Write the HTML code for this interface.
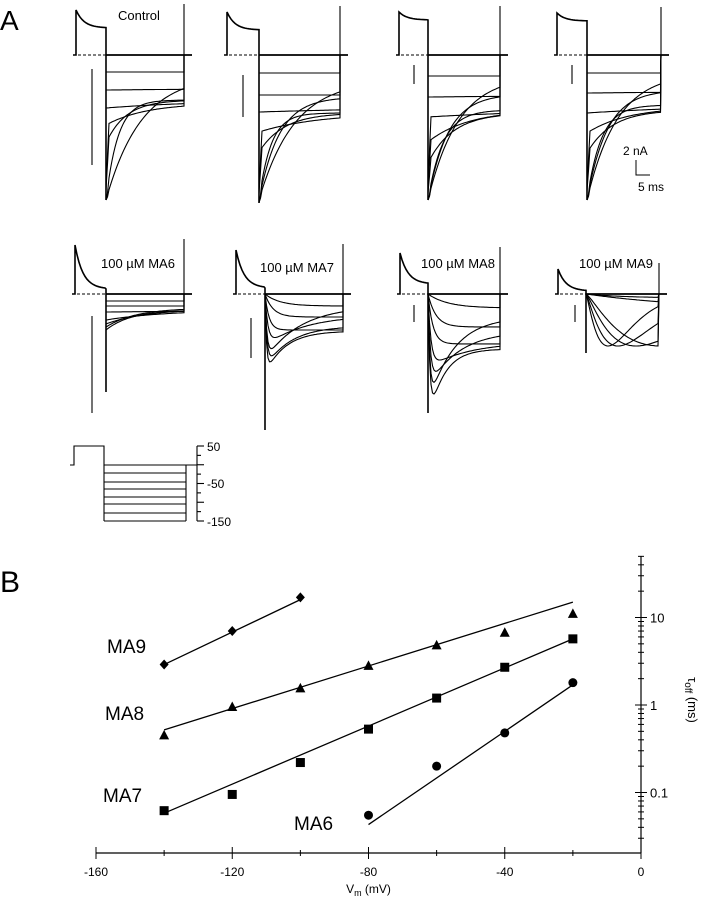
<!DOCTYPE html>
<html><head><meta charset="utf-8"><style>
body{margin:0;background:#fff}
svg{display:block;font-family:"Liberation Sans",Arial,sans-serif}
</style></head><body>
<svg id="fig" width="703" height="900" viewBox="0 0 703 900">
<text x="0" y="30" font-size="28">A</text>
<text x="0" y="592" font-size="30">B</text>
<g id="traces" fill="none" stroke="#000" stroke-width="1.1"></g>
<text x="118" y="20" font-size="13">Control</text>
<text x="101" y="268" font-size="13">100 µM MA6</text>
<text x="260" y="272" font-size="13">100 µM MA7</text>
<text x="421" y="268" font-size="13">100 µM MA8</text>
<text x="579" y="268" font-size="13">100 µM MA9</text>
<text x="623" y="155" font-size="12">2 nA</text>
<path d="M636 160 V175 H650" fill="none" stroke="#000"/>
<text x="638" y="191" font-size="12">5 ms</text>
<g id="protocol" fill="none" stroke="#000" stroke-width="1.1"></g>
<g id="chartB"></g>
</svg>
<script>
// ---- Panel B data ----
const vCats = [-140,-120,-100,-80,-60,-40,-20];
const ma9Vals = [2.9,7,17,null,null,null,null];
const ma8Vals = [0.45,0.95,1.55,2.8,4.8,6.7,11];
const ma7Vals = [0.062,0.095,0.22,0.53,1.2,2.7,5.7];
const ma6Vals = [null,null,null,0.055,0.2,0.48,1.8];
const ma9Fit = [[-140,2.9],[-100,16]];
const ma8Fit = [[-140,0.52],[-20,15]];
const ma7Fit = [[-140,0.058],[-20,5.7]];
const ma6Fit = [[-80,0.043],[-20,1.7]];
const xTicks = [-160,-120,-80,-40,0];
const yTickLabels = [10,1,0.1];

const NS='http://www.w3.org/2000/svg';
function mk(tag,attrs,parent){const e=document.createElementNS(NS,tag);for(const k in attrs)e.setAttribute(k,attrs[k]);parent.appendChild(e);return e;}
const X=v=>96+(v+160)*(545/160);
const Y=v=>705-Math.log10(v)*87.5;
const AX=X(0);
const g=document.getElementById('chartB');
let ax=mk('line',{x1:X(-160),y1:853,x2:AX,y2:853,stroke:'#000','stroke-width':1.2},g);


for(let v=-160;v<=0;v+=20){const t=mk('line',{x1:X(v),y1:v%40===0?847:850,x2:X(v),y2:v%40===0?859:856,stroke:'#000'},g);}
xTicks.forEach(v=>{const t=mk('text',{x:X(v),y:876,'font-size':12,'text-anchor':'middle'},g);t.textContent=v;});
let xt=mk('text',{x:X(-80),y:893,'font-size':12,'text-anchor':'middle'},g);
xt.innerHTML='V<tspan font-size="9" dy="3">m</tspan><tspan dy="-3"> (mV)</tspan>';


let ay=mk('line',{x1:AX,y1:556,x2:AX,y2:853,stroke:'#000','stroke-width':1.2},g);


[0.01,0.1,1,10].forEach(d=>{for(let m=1;m<10;m++){const v=d*m;const y=Y(v);if(y<556||y>853)continue;const L=m===1?6:3;const t=mk('line',{x1:AX-L,y1:y,x2:AX+L,y2:y,stroke:'#000'},g);}});
yTickLabels.forEach(v=>{const t=mk('text',{x:AX+9,y:Y(v)+5,'font-size':13},g);t.textContent=v;});
let yt=mk('text',{x:0,y:0,'font-size':13,'text-anchor':'middle',transform:'translate(688,700) rotate(90)'},g);
yt.innerHTML='τ<tspan font-size="10" dy="3">off</tspan><tspan dy="-3"> (ms)</tspan>';


function fit(pts,name){const l=mk('line',{x1:X(pts[0][0]),y1:Y(pts[0][1]),x2:X(pts[1][0]),y2:Y(pts[1][1]),stroke:'#000','stroke-width':1.3},g);}
fit(ma9Fit,'ma9-fit-line');fit(ma8Fit,'ma8-fit-line');fit(ma7Fit,'ma7-fit-line');fit(ma6Fit,'ma6-fit-line');
function marks(vals,shape,name){vals.forEach((v,i)=>{if(v==null)return;const x=X(vCats[i]),y=Y(v);let e;
 if(shape==='d')e=mk('polygon',{points:`${x},${y-5} ${x+4.5},${y} ${x},${y+5} ${x-4.5},${y}`},g);
 else if(shape==='t')e=mk('polygon',{points:`${x},${y-5.5} ${x+5},${y+4} ${x-5},${y+4}`},g);
 else if(shape==='s')e=mk('rect',{x:x-4.5,y:y-4.5,width:9,height:9},g);
 else e=mk('circle',{cx:x,cy:y,r:4.5},g);
 
 });}
marks(ma9Vals,'d','ma9-point');marks(ma8Vals,'t','ma8-point');marks(ma7Vals,'s','ma7-point');marks(ma6Vals,'c','ma6-point');
[['MA9',107,653],['MA8',105,720],['MA7',103,802],['MA6',294,830]].forEach(a=>{const t=mk('text',{x:a[1],y:a[2],'font-size':19},g);t.textContent=a[0];});

// ---- Panel A traces ----
const tg=document.getElementById('traces');
// trace params: [startDepth, endDepth, tau, rise]; rise<0 => gamma-shape (peak depth=start, peak time=-rise)
const panels=[
 {n:'control',pre:76,st:106,en:184,b:55,top:10,pe:28,sb:[92,69,165],bot:200,tr:[[17,17,999,0],[35,32,300,0],[53,45,100,0],[70,48,40,0],[88,45,20,0],[145,20,35,0],[145,45,12,0]]},
 {n:'control-2',pre:227,st:259,en:340,b:55,top:12,pe:30,sb:[243,75,117],bot:203,tr:[[18,18,999,0],[40,40,999,0],[57,48,300,0],[77,58,60,0],[97,58,25,0],[145,25,35,0],[145,42,20,0],[145,58,12,0]]},
 {n:'control-3',pre:399,st:428,en:500,b:55,top:12,pe:20,sb:[414,65,84],bot:200,tr:[[21,21,999,0],[42,39,300,0],[62,53,150,0],[87,55,40,0],[108,58,25,0],[145,21,30,0],[145,39,20,0],[145,55,15,0]]},
 {n:'control-4',pre:557,st:587,en:661,b:55,top:13,pe:21,sb:[572,65,84],bot:200,tr:[[18,18,999,0],[38,35,300,0],[58,48,150,0],[78,52,40,0],[98,55,25,0],[145,18,30,0],[145,35,20,0],[145,50,14,0]]},
 {n:'ma6',pre:75,st:106,en:184,b:294,top:245,pe:289,sb:[92,316,413],bot:392,tr:[[7,7,999,0],[12,12,999,0],[18,16,200,0],[26,16,60,0],[30,15,40,0],[33,14,30,0],[36,16,25,0]]},
 {n:'ma7',pre:236,st:265,en:343,b:294,top:250,pe:288,sb:[251,318,358],bot:430,tr:[[12,12,999,15],[23,23,999,8],[36,36,999,4],[52,21,40,3],[66,12,35,2],[74,32,25,2],[80,37,20,1.5]]},
 {n:'ma8',pre:400,st:428,en:500,b:294,top:253,pe:284,sb:[414,305,322],bot:413,tr:[[14,14,999,20],[33,32,999,8],[50,49,999,5],[74,48,40,3],[94,37,30,2.5],[112,23,25,2],[130,55,15,2]]},
 {n:'ma9',pre:558,st:586,en:659,b:294,top:269,pe:291,sb:[575,305,322],bot:353,tr:[[4,4,999,40],[17,17,999,120],[52,0,0,-75],[52,0,0,-50],[52,0,0,-32],[52,0,0,-22]]}
];
panels.forEach(p=>{
 const pg=mk('g',{},tg);
 let d=`M${p.pre-3} ${p.b} H${p.pre} V${p.top}`;
 for(let x=p.pre;x<=p.st;x+=2){const t=x-p.pre;d+=` L${x} ${p.pe-(p.pe-p.top)*Math.exp(-t/8)}`;}
 d+=` L${p.st} ${p.pe} V${p.bot}`;
 mk('path',{d:d,'stroke-width':1.6},pg);
 mk('line',{x1:p.pre-3,y1:p.b,x2:p.st,y2:p.b,'stroke-dasharray':'3,2'},pg);
 mk('line',{x1:p.st,y1:p.b,x2:p.en+8,y2:p.b,'stroke-width':1.8},pg);
 mk('line',{x1:p.en,y1:p.top-6,x2:p.en,y2:p.b},pg);
 const sb=mk('line',{x1:p.sb[0],y1:p.sb[1],x2:p.sb[0],y2:p.sb[2]},pg);
 
 p.tr.forEach(tr=>{
  const [A0,Ae,tau,rise]=tr;let dd='';
  for(let x=p.st;x<=p.en;x+=1.5){const t=x-p.st;let a;
   if(rise<0){const tp=-rise,r=t/tp;a=A0*Math.pow(r,1.3)*Math.exp(1.3*(1-r));}
   else{a=Ae+(A0-Ae)*Math.exp(-t/tau);if(rise>0)a*=(1-Math.exp(-t/rise));if(rise===0&&t<3&&A0>60)a+=(p.bot-p.b-a)*(1-t/3)*0.8;}
   dd+=(dd?' L':'M')+x.toFixed(1)+' '+(p.b+a).toFixed(1);}
  dd+=` L${p.en} ${p.b}`;
  mk('path',{d:dd},pg);
 });
});
// protocol
const pr=document.getElementById('protocol');
mk('path',{d:'M70 465 H74 V446 H104 V465 H197'},pr);
[473,482,489,497,504,513,521].forEach(y=>mk('line',{x1:104,y1:y,x2:186,y2:y},pr));
mk('line',{x1:104,y1:465,x2:104,y2:521},pr);
mk('line',{x1:186,y1:465,x2:186,y2:521},pr);
mk('line',{x1:197,y1:446,x2:197,y2:521},pr);
for(let i=0;i<=8;i++){const y=446+i*75/8;mk('line',{x1:197,y1:y,x2:i%2?201:204,y2:y},pr);}
[['50',446],['-50',483],['-150',521]].forEach(a=>{const t=mk('text',{x:207,y:a[1]+5,'font-size':12,fill:'#000',stroke:'none'},pr);t.textContent=a[0];});
</script>
</body></html>
